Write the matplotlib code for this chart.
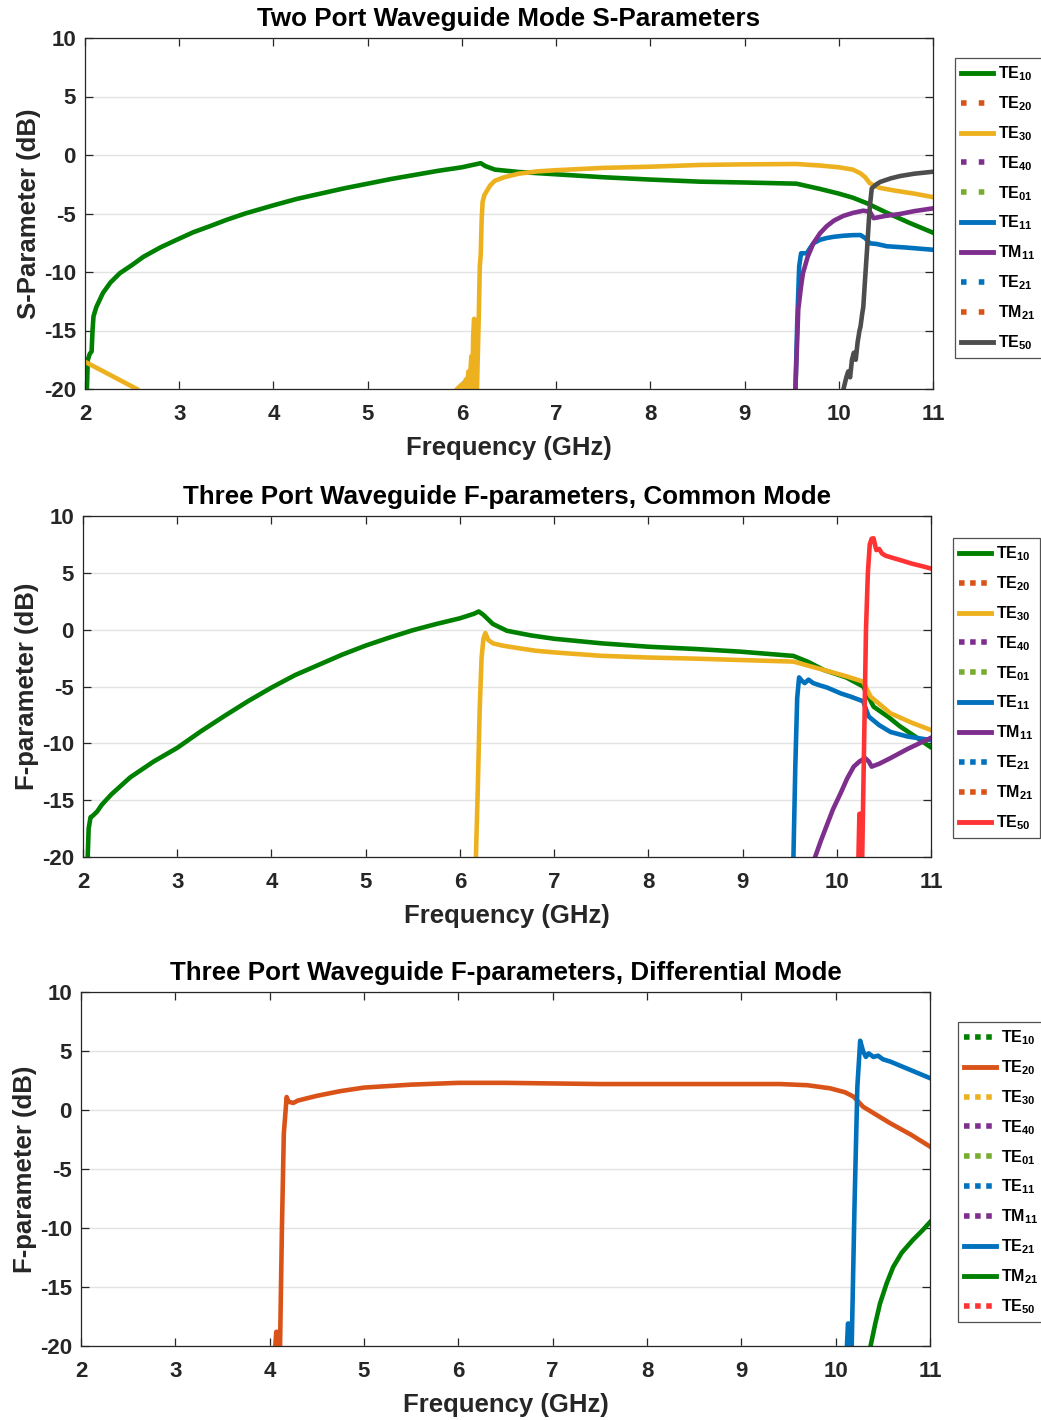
import matplotlib
matplotlib.use("Agg")
import matplotlib.pyplot as plt
from matplotlib.lines import Line2D

plt.rcParams['font.family'] = ['Liberation Sans', 'DejaVu Sans']
plt.rcParams['font.weight'] = 'bold'
plt.rcParams['mathtext.default'] = 'regular'
plt.rcParams['axes.unicode_minus'] = False

# ---------------- data ----------------
modes = ['TE_{10}', 'TE_{20}', 'TE_{30}', 'TE_{40}', 'TE_{01}',
         'TE_{11}', 'TM_{11}', 'TE_{21}', 'TM_{21}', 'TE_{50}']

# Panel 1: two-port S-parameters
p1_te10_x = [2.02, 2.03, 2.05, 2.07, 2.08, 2.09, 2.12, 2.19, 2.27, 2.37, 2.5, 2.62, 2.8, 2.97, 3.15, 3.33,
             3.5, 3.7, 4.0, 4.25, 4.5, 4.75, 5.0, 5.25, 5.5, 5.75, 6.0, 6.2, 6.25, 6.35, 6.6, 7.0, 7.5,
             8.0, 8.53, 9.0, 9.55, 9.8, 10.0, 10.15, 10.3, 10.5, 10.75, 11.0]
p1_te10_y = [-20, -17.5, -17.0, -16.8, -15.0, -13.8, -13.0, -11.8, -10.9, -10.1, -9.4, -8.7, -7.9, -7.26,
             -6.6, -6.07, -5.55, -5.0, -4.3, -3.75, -3.3, -2.85, -2.45, -2.05, -1.7, -1.35, -1.05, -0.7,
             -0.95, -1.25, -1.45, -1.65, -1.9, -2.1, -2.28, -2.35, -2.45, -2.9, -3.3, -3.65, -4.13, -4.9,
             -5.8, -6.64]
p1_te30a_x = [2.0, 2.55]
p1_te30a_y = [-17.67, -20.0]
p1_te30b_x = [5.95, 6.0, 6.02, 6.04, 6.05, 6.07, 6.08, 6.1, 6.11, 6.12, 6.13, 6.14, 6.16, 6.18, 6.19, 6.2,
              6.21, 6.22, 6.24, 6.27, 6.3, 6.35, 6.45, 6.6, 6.8, 7.0, 7.5, 8.0, 8.53, 9.0, 9.55, 9.8, 10.0,
              10.15, 10.23, 10.28, 10.33, 10.43, 10.6, 10.8, 11.0]
p1_te30b_y = [-20, -19.6, -20, -19.2, -20, -18.5, -20, -17.2, -20, -15.5, -14.0, -20, -20, -13.5, -9.5,
              -8.5, -5.5, -4.0, -3.4, -3.0, -2.6, -2.2, -1.9, -1.6, -1.4, -1.3, -1.1, -1.0, -0.85, -0.8,
              -0.77, -0.9, -1.05, -1.25, -1.57, -1.9, -2.42, -2.8, -3.05, -3.3, -3.6]
p1_te11_x = [9.54, 9.56, 9.58, 9.6, 9.66, 9.7, 9.73, 9.8, 9.87, 9.94, 10.05, 10.15, 10.23, 10.28, 10.33,
             10.4, 10.51, 10.7, 10.85, 11.0]
p1_te11_y = [-20, -14, -9.5, -8.4, -8.4, -7.9, -7.55, -7.25, -7.1, -7.0, -6.9, -6.85, -6.84, -7.1, -7.55,
             -7.6, -7.8, -7.9, -8.0, -8.1]
p1_tm11_x = [9.54, 9.56, 9.57, 9.6, 9.62, 9.67, 9.73, 9.8, 9.87, 9.95, 10.05, 10.15, 10.26, 10.33, 10.37,
             10.5, 10.65, 10.8, 11.0]
p1_tm11_y = [-20, -15.5, -13.2, -11.2, -10.1, -8.7, -7.55, -6.7, -6.1, -5.6, -5.2, -4.95, -4.76, -4.85,
             -5.4, -5.2, -5.04, -4.8, -4.56]
p1_te50_x = [10.05, 10.08, 10.1, 10.12, 10.14, 10.16, 10.18, 10.2, 10.22, 10.23, 10.25, 10.26, 10.28, 10.3,
             10.32, 10.33, 10.35, 10.4, 10.44, 10.55, 10.65, 10.8, 11.0]
p1_te50_y = [-20, -19.0, -18.5, -19.0, -17.5, -16.9, -17.5, -16.0, -15.0, -14.7, -13.5, -13.0, -10.5, -8.1,
             -5.5, -4.4, -2.85, -2.5, -2.3, -2.0, -1.8, -1.6, -1.43]

# Panel 2: three-port common mode
p2_te10_x = [2.05, 2.06, 2.08, 2.1, 2.15, 2.2, 2.3, 2.5, 2.75, 3.0, 3.25, 3.5, 3.75, 4.0, 4.25, 4.5, 4.75,
             5.0, 5.25, 5.5, 5.75, 6.0, 6.15, 6.2, 6.25, 6.35, 6.5, 6.75, 7.0, 7.5, 8.0, 8.5, 8.97, 9.54,
             9.7, 9.86, 10.1, 10.28, 10.39, 10.55, 10.67, 10.85, 10.99]
p2_te10_y = [-20, -17.5, -16.5, -16.4, -16.0, -15.4, -14.5, -13.0, -11.6, -10.4, -8.95, -7.6, -6.3, -5.1,
             -4.0, -3.1, -2.2, -1.4, -0.7, -0.05, 0.5, 1.0, 1.4, 1.6, 1.3, 0.5, -0.1, -0.5, -0.8, -1.2,
             -1.5, -1.7, -1.93, -2.31, -2.85, -3.54, -4.2, -5.0, -6.77, -7.7, -8.5, -9.5, -10.3]
p2_te30_x = [6.17, 6.19, 6.21, 6.23, 6.25, 6.27, 6.3, 6.35, 6.45, 6.6, 6.8, 7.0, 7.5, 8.0, 8.5, 8.97,
             9.54, 9.86, 10.1, 10.28, 10.36, 10.57, 10.8, 10.99]
p2_te30_y = [-20, -14, -7, -2.5, -0.8, -0.3, -0.9, -1.2, -1.4, -1.6, -1.85, -2.0, -2.3, -2.45, -2.55,
             -2.67, -2.81, -3.54, -4.1, -4.57, -5.9, -7.36, -8.2, -8.8]
p2_te11_x = [9.54, 9.56, 9.58, 9.6, 9.63, 9.66, 9.7, 9.75, 9.82, 9.9, 10.04, 10.15, 10.28, 10.31, 10.34,
             10.45, 10.57, 10.75, 10.99]
p2_te11_y = [-20, -12, -6, -4.2, -4.5, -4.7, -4.4, -4.7, -4.9, -5.1, -5.6, -5.9, -6.3, -7.0, -7.65, -8.4,
             -9.0, -9.4, -9.7]
p2_tm11_x = [9.77, 9.83, 9.89, 9.96, 10.04, 10.11, 10.18, 10.24, 10.3, 10.34, 10.37, 10.45, 10.57, 10.75,
             10.99]
p2_tm11_y = [-20, -18.6, -17.3, -15.8, -14.4, -13.1, -12.05, -11.6, -11.3, -11.6, -12.05, -11.8, -11.3,
             -10.5, -9.55]
p2_te50_x = [10.23, 10.24, 10.25, 10.26, 10.27, 10.29, 10.31, 10.33, 10.35, 10.37, 10.39, 10.41, 10.42,
             10.45, 10.48, 10.52, 10.6, 10.67, 10.8, 10.9, 10.99]
p2_te50_y = [-20, -16.2, -16.2, -20, -20, -10, 0, 5, 7.5, 8.0, 8.04, 7.3, 7.0, 7.1, 6.7, 6.5, 6.3, 6.13,
             5.8, 5.6, 5.4]

# Panel 3: three-port differential mode
p3_te20_x = [4.06, 4.07, 4.08, 4.09, 4.11, 4.13, 4.15, 4.18, 4.2, 4.25, 4.3, 4.5, 4.75, 5.0, 5.5, 6.0,
             6.5, 7.0, 7.5, 8.0, 8.5, 9.0, 9.41, 9.7, 9.94, 10.1, 10.19, 10.29, 10.45, 10.58, 10.8, 11.0]
p3_te20_y = [-20, -18.8, -18.8, -20, -20, -10, -2, 1.1, 0.7, 0.6, 0.8, 1.2, 1.6, 1.9, 2.15, 2.3, 2.3,
             2.25, 2.2, 2.2, 2.2, 2.2, 2.2, 2.1, 1.84, 1.5, 1.13, 0.28, -0.5, -1.13, -2.1, -3.1]
p3_te21_x = [10.12, 10.13, 10.14, 10.15, 10.17, 10.2, 10.23, 10.26, 10.29, 10.32, 10.35, 10.4, 10.45,
             10.5, 10.58, 10.7, 10.85, 11.0]
p3_te21_y = [-20, -18.1, -18.1, -20, -20, -8, 2, 5.87, 5.0, 4.5, 4.8, 4.5, 4.6, 4.3, 4.1, 3.7, 3.2, 2.7]
p3_tm21_x = [10.37, 10.42, 10.47, 10.54, 10.61, 10.7, 10.82, 10.92, 11.0]
p3_tm21_y = [-20, -18.1, -16.4, -14.7, -13.3, -12.1, -11.0, -10.2, -9.5]

xticks = [2, 3, 4, 5, 6, 7, 8, 9, 10, 11]
yticks = [-20, -15, -10, -5, 0, 5, 10]

# ---------------- styles ----------------
C_GREEN = '#008000'
C_ORANGE = '#D95319'
C_YELLOW = '#EDB120'
C_PURPLE = '#7E2F8E'
C_LGREEN = '#77AC30'
C_BLUE = '#0072BD'
C_GRAY = '#4D4D4D'
C_RED = '#FF3333'

LW = 3.3

fig = plt.figure(figsize=(10.41, 14.2), dpi=100)

ax_pos = [
    [85/1041, 1-389/1420, 848/1041, 351/1420],
    [83/1041, 1-857/1420, 848/1041, 341/1420],
    [81/1041, 1-1346/1420, 849/1041, 354/1420],
]
leg_anchor = [
    (955/1041, 1-58/1420),
    (953/1041, 1-538/1420),
    (958/1041, 1-1022/1420),
]
titles = ['Two Port Waveguide Mode S-Parameters',
          'Three Port Waveguide F-parameters, Common Mode',
          'Three Port Waveguide F-parameters, Differential Mode']
ylabels = ['S-Parameter (dB)', 'F-parameter (dB)', 'F-parameter (dB)']

colors1 = [C_GREEN, C_ORANGE, C_YELLOW, C_PURPLE, C_LGREEN, C_BLUE, C_PURPLE, C_BLUE, C_ORANGE, C_GRAY]
solid1 = [True, False, True, False, False, True, True, False, False, True]
colors2 = [C_GREEN, C_ORANGE, C_YELLOW, C_PURPLE, C_LGREEN, C_BLUE, C_PURPLE, C_BLUE, C_ORANGE, C_RED]
solid2 = solid1
colors3 = [C_GREEN, C_ORANGE, C_YELLOW, C_PURPLE, C_LGREEN, C_BLUE, C_PURPLE, C_BLUE, C_GREEN, C_RED]
solid3 = [False, True, False, False, False, False, False, True, True, False]
dots = [(0, (1, 2.2)), (0, (1, 1)), (0, (1, 1))]

axes = [fig.add_axes(p) for p in ax_pos]

# Panel 1 curves
a = axes[0]
a.plot(p1_te10_x, p1_te10_y, color=C_GREEN, lw=LW)
a.plot(p1_te30a_x, p1_te30a_y, color=C_YELLOW, lw=LW)
a.plot(p1_te30b_x, p1_te30b_y, color=C_YELLOW, lw=LW)
a.plot(p1_te11_x, p1_te11_y, color=C_BLUE, lw=LW)
a.plot(p1_tm11_x, p1_tm11_y, color=C_PURPLE, lw=LW)
a.plot(p1_te50_x, p1_te50_y, color=C_GRAY, lw=LW)

# Panel 2 curves
a = axes[1]
a.plot(p2_te10_x, p2_te10_y, color=C_GREEN, lw=LW)
a.plot(p2_te30_x, p2_te30_y, color=C_YELLOW, lw=LW)
a.plot(p2_te11_x, p2_te11_y, color=C_BLUE, lw=LW)
a.plot(p2_tm11_x, p2_tm11_y, color=C_PURPLE, lw=LW)
a.plot(p2_te50_x, p2_te50_y, color=C_RED, lw=LW)

# Panel 3 curves
a = axes[2]
a.plot(p3_te20_x, p3_te20_y, color=C_ORANGE, lw=LW)
a.plot(p3_te21_x, p3_te21_y, color=C_BLUE, lw=LW)
a.plot(p3_tm21_x, p3_tm21_y, color=C_GREEN, lw=LW)

for i, (a, cols, sol) in enumerate(zip(axes, [colors1, colors2, colors3], [solid1, solid2, solid3])):
    a.set_xlim(2, 11)
    a.set_ylim(-20, 10)
    a.set_xticks(xticks)
    a.set_yticks(yticks)
    a.grid(axis='y', color='#e3e3e3', lw=1.0)
    a.set_axisbelow(True)
    for s in a.spines.values():
        s.set_color('#262626')
        s.set_linewidth(0.9)
    a.tick_params(direction='in', length=6, width=0.9, top=True, right=True,
                  labelsize=16, colors='#262626')
    a.tick_params(axis='x', pad=10.5)
    a.tick_params(axis='y', pad=6.5)
    for lab in a.get_xticklabels() + a.get_yticklabels():
        lab.set_fontweight('bold')
        lab.set_color('#262626')
    a.set_title(titles[i], fontsize=18.7, fontweight='bold', color='black', pad=8.5)
    a.set_xlabel('Frequency (GHz)', fontsize=18.5, fontweight='bold', color='#262626', labelpad=8)
    a.set_ylabel(ylabels[i], fontsize=18.5, fontweight='bold', color='#262626', labelpad=2)
    handles = []
    for m, c, s in zip(modes, cols, sol):
        handles.append(Line2D([], [], color=c, lw=3.5 if s else 4.0,
                              linestyle='-' if s else dots[i], label='$' + m + '$'))
    leg = fig.legend(handles=handles, loc='upper left', bbox_to_anchor=leg_anchor[i],
                     bbox_transform=fig.transFigure, frameon=True, fancybox=False,
                     prop={'weight': 'bold', 'size': 11.5}, handlelength=2.0,
                     handletextpad=0.3, labelspacing=0.70, borderpad=0.4, borderaxespad=0.0)
    leg.get_frame().set_edgecolor('#262626')
    leg.get_frame().set_linewidth(0.9)

fig.savefig('out.png', dpi=100)
